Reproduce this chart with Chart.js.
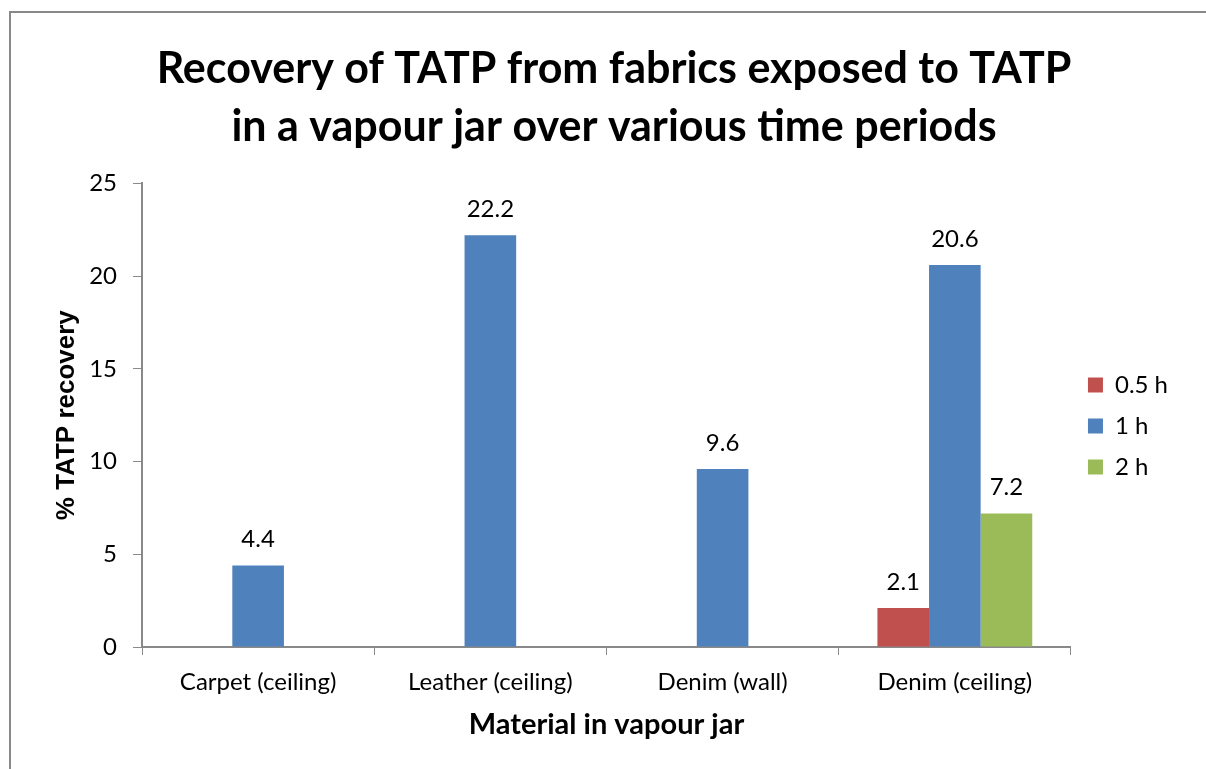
<!DOCTYPE html>
<html>
<head>
<meta charset="utf-8">
<script src="https://cdn.jsdelivr.net/npm/chart.js@4"></script>
<style>
  html, body { margin: 0; padding: 0; background: #fff; }
  #wrap { width: 1206px; height: 769px; position: relative; }
</style>
</head>
<body>
<div id="wrap"><canvas id="chart" width="1206" height="769"></canvas></div>
<script>
// === DATA ===
const categories = ['Carpet (ceiling)', 'Leather (ceiling)', 'Denim (wall)', 'Denim (ceiling)'];
const seriesNames = ['0.5 h', '1 h', '2 h'];
const halfHour = [null, null, null, 2.1];
const oneHour = [4.4, 22.2, 9.6, 20.6];
const twoHour = [null, null, null, 7.2];
const yTicks = [0, 5, 10, 15, 20, 25];

const colours = ['#C0504D', '#4F81BD', '#9BBB59'];
const bodyFont = 'Lato, "Open Sans", sans-serif';

// Frame around the chart (only top and left edges fall inside the picture)
const framePlugin = {
    id: 'frame',
    beforeDraw(chart) {
        const ctx = chart.ctx;
        ctx.save();
        ctx.fillStyle = '#fff';
        ctx.fillRect(0, 0, chart.width, chart.height);
        ctx.strokeStyle = '#898989';
        ctx.lineWidth = 2;
        ctx.beginPath();
        ctx.moveTo(10, chart.height);
        ctx.lineTo(10, 12);
        ctx.lineTo(chart.width, 12);
        ctx.stroke();
        ctx.restore();
    }
};

// Nudge legend down and title right to match the original placement
const boxShift = {
    id: 'boxShift',
    afterLayout(chart) {
        const lg = chart.legend;
        if (lg) {
            lg.top += 43;
            lg.bottom += 43;
        }
        const tb = chart.titleBlock;
        if (tb) {
            tb.left += 10;
            tb.right += 10;
        }
    }
};

// Value labels above each bar
const valueLabels = {
    id: 'valueLabels',
    afterDatasetsDraw(chart) {
        const ctx = chart.ctx;
        ctx.save();
        ctx.font = '24px ' + bodyFont;
        ctx.fillStyle = '#000';
        ctx.textAlign = 'center';
        ctx.textBaseline = 'middle';
        chart.data.datasets.forEach((ds, i) => {
            chart.getDatasetMeta(i).data.forEach((bar, j) => {
                const v = ds.data[j];
                if (v === null || v === undefined) return;
                ctx.fillText(v.toFixed(1), bar.x, bar.y - 26);
            });
        });
        ctx.restore();
    }
};

const datasets = [halfHour, oneHour, twoHour].map((d, i) => ({
    label: seriesNames[i],
    data: d,
    backgroundColor: colours[i],
    borderWidth: 0,
    categoryPercentage: 3 / 4.5,
    barPercentage: 1.0
}));

new Chart(document.getElementById('chart'), {
    type: 'bar',
    data: { labels: categories, datasets },
    options: {
        responsive: false,
        animation: false,
        layout: { padding: { left: 30, right: 28, top: 20, bottom: 23 } },
        plugins: {
            title: {
                display: true,
                text: ['Recovery of TATP from fabrics exposed to TATP', 'in a vapour jar over various time periods'],
                color: '#000',
                font: { family: bodyFont, size: 43, weight: 'bold', lineHeight: 1.33 },
                padding: { top: 21, bottom: 28 }
            },
            legend: {
                position: 'right',
                labels: {
                    color: '#000',
                    font: { family: bodyFont, size: 24 },
                    boxWidth: 15,
                    boxHeight: 15,
                    padding: 17
                }
            },
            tooltip: { enabled: false }
        },
        scales: {
            x: {
                grid: { drawOnChartArea: false, color: '#898989', tickLength: 8, offset: true },
                border: { color: '#898989', width: 2 },
                ticks: { color: '#000', font: { family: bodyFont, size: 24 }, padding: 13 },
                title: {
                    display: true,
                    text: 'Material in vapour jar',
                    color: '#000',
                    font: { family: bodyFont, size: 29, weight: 'bold' },
                    padding: { top: 10 }
                },
                afterFit(scale) { scale.height = 99; }
            },
            y: {
                min: 0,
                max: 25,
                afterBuildTicks(scale) { scale.ticks = yTicks.map(v => ({ value: v })); },
                grid: { drawOnChartArea: false, color: '#898989', tickLength: 9 },
                border: { color: '#898989', width: 2 },
                ticks: { color: '#000', font: { family: bodyFont, size: 24 }, padding: 16 },
                title: {
                    display: true,
                    text: '% TATP recovery',
                    color: '#000',
                    font: { family: '"Liberation Sans", Arial, sans-serif', size: 26, weight: 'bold' },
                    padding: { top: 21, bottom: 0 }
                },
                afterFit(scale) { scale.width = 112; }
            }
        }
    },
    plugins: [framePlugin, boxShift, valueLabels]
});
</script>
</body>
</html>
